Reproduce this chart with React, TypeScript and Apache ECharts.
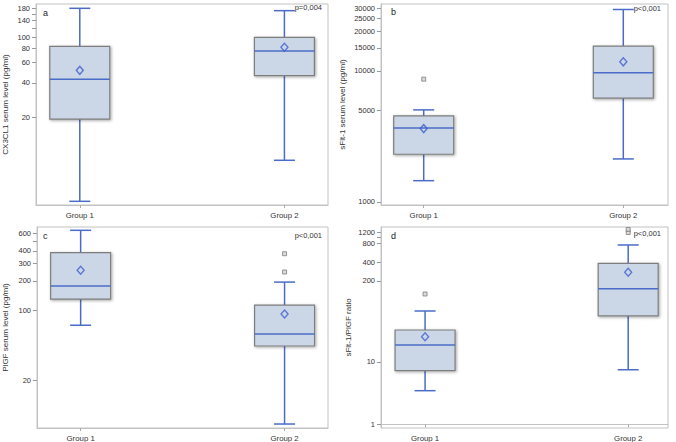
import React, { useEffect, useRef } from "react";
import * as echarts from "echarts";

// ---------- data ----------
const groups = ["Group 1", "Group 2"];

// [min, Q1, median, Q3, max] per group
const cx3cl1Box = [
  [3.65, 19.2, 42.9, 83.5, 180],
  [8.36, 46.2, 76, 100, 171.6],
];
const cx3cl1Mean = [51.4, 81.9];
const cx3cl1Outliers: number[][] = [[], []];
const cx3cl1Ticks = [20, 40, 60, 80, 100, 140, 180];
const cx3cl1MinorTicks = [120, 160];

const sflt1Box = [
  [1454, 2312, 3673, 4532, 5040],
  [2130, 6188, 9660, 15440, 29380],
];
const sflt1Mean = [3627, 11720];
const sflt1Outliers: number[][] = [[8646], []];
const sflt1Ticks = [1000, 5000, 10000, 15000, 20000, 25000, 30000];
const sflt1MinorTicks: number[] = [];

const plgfBox = [
  [71.5, 131, 177, 383, 643],
  [7.27, 44.2, 58.4, 113.6, 194],
];
const plgfMean = [255, 92.8];
const plgfOutliers: number[][] = [[], [374, 245]];
const plgfTicks = [20, 100, 200, 300, 400, 600];
const plgfMinorTicks = [500];

const ratioBox = [
  [3.46, 7.24, 18.7, 32.5, 65.6],
  [7.5, 54.6, 149.6, 382, 751],
];
const ratioMean = [25.4, 274];
const ratioOutliers: number[][] = [[123], [1190, 1330]];
const ratioTicks = [1, 10, 200, 400, 800, 1200];
const ratioMinorTicks = [1000];

const panelLetters = ["a", "b", "c", "d"];
const pValues = ["p=0,004", "p<0,001", "p<0,001", "p<0,001"];
const yTitles = [
  "CX3CL1 serum level (pg/ml)",
  "sFlt-1 serum level (pg/ml)",
  "PlGF serum level (pg/ml)",
  "sFlt-1/PlGF ratio",
];

// ---------- layout ----------
const panels = [
  { box: cx3cl1Box, mean: cx3cl1Mean, out: cx3cl1Outliers, ticks: cx3cl1Ticks, minor: cx3cl1MinorTicks,
    grid: { left: 35, top: 4, width: 293, height: 201 }, yMin: 0.53, yMax: 2.293, xMin: 0.786, xMax: 2.213, nameGap: 27,
    letter: [43, 13], p: [322, 7] },
  { box: sflt1Box, mean: sflt1Mean, out: sflt1Outliers, ticks: sflt1Ticks, minor: sflt1MinorTicks,
    grid: { left: 381, top: 4, width: 287, height: 201 }, yMin: 2.977, yMax: 4.51, xMin: 0.786, xMax: 2.224, nameGap: 35,
    letter: [391, 12], p: [661, 8] },
  { box: plgfBox, mean: plgfMean, out: plgfOutliers, ticks: plgfTicks, minor: plgfMinorTicks,
    grid: { left: 35, top: 227, width: 293, height: 201 }, yMin: 0.8215, yMax: 2.8415, xMin: 0.786, xMax: 2.213, nameGap: 28,
    letter: [43, 236], p: [322, 235] },
  { box: ratioBox, mean: ratioMean, out: ratioOutliers, ticks: ratioTicks, minor: ratioMinorTicks,
    grid: { left: 381, top: 227, width: 287, height: 201 }, yMin: -0.0593, yMax: 3.164, xMin: 0.783, xMax: 2.196, nameGap: 29,
    letter: [391, 236], p: [661, 233] },
];

const FONT = "Liberation Sans, Arial, sans-serif";
const LINE_BLUE = "#4a6cc8";
const BOX_FILL = "#cbd6e7";
const BOX_BORDER = "#7d7d7d";
const FRAME = "#c2c2c2";

export default function App() {
  const ref = useRef<HTMLDivElement>(null);

  useEffect(() => {
    if (!ref.current) return;
    const chart = echarts.init(ref.current, undefined, { renderer: "svg" });

    const grids: any[] = [];
    const xAxes: any[] = [];
    const yAxes: any[] = [];
    const series: any[] = [];
    const graphics: any[] = [];

    panels.forEach((pn, i) => {
      grids.push({ ...pn.grid, show: true, borderColor: FRAME, borderWidth: 1, backgroundColor: "#fff" });
      xAxes.push({
        type: "value",
        gridIndex: i,
        min: pn.xMin,
        max: pn.xMax,
        axisLine: { show: true, lineStyle: { color: FRAME } },
        axisTick: { show: true, length: 3, lineStyle: { color: "#aaa" }, customValues: [1, 2] },
        axisLabel: {
          customValues: [1, 2],
          formatter: (v: number) => groups[Math.round(v) - 1] ?? "",
          fontSize: 7.8,
          color: "#333",
          fontFamily: FONT,
          margin: 6,
        },
        splitLine: { show: false },
      });
      const majors = pn.ticks.map((t) => Math.log10(t));
      const all = majors.concat(pn.minor.map((t) => Math.log10(t)));
      yAxes.push({
        type: "value",
        gridIndex: i,
        min: pn.yMin,
        max: pn.yMax,
        name: yTitles[i],
        nameLocation: "middle",
        nameGap: pn.nameGap,
        nameTextStyle: { fontSize: 8, color: "#333", fontFamily: FONT },
        axisLine: { show: true, lineStyle: { color: FRAME } },
        axisTick: { show: true, length: 4, lineStyle: { color: "#999" }, customValues: all },
        axisLabel: {
          customValues: majors,
          formatter: (v: number) => String(Math.round(Math.pow(10, v))),
          fontSize: 7.5,
          color: "#333",
          fontFamily: FONT,
          margin: 6,
        },
        splitLine: { show: false },
      });

      const boxData = pn.box.map((b, g) => [g + 1, ...b.map((v) => Math.log10(v))]);
      series.push({
        type: "custom",
        xAxisIndex: i,
        yAxisIndex: i,
        data: boxData,
        encode: { x: 0, y: [1, 2, 3, 4, 5] },
        renderItem: (params: any, api: any) => {
          const x = api.value(0);
          const pMin = api.coord([x, api.value(1)]);
          const pQ1 = api.coord([x, api.value(2)]);
          const pMed = api.coord([x, api.value(3)]);
          const pQ3 = api.coord([x, api.value(4)]);
          const pMax = api.coord([x, api.value(5)]);
          const cx = pMin[0];
          const hw = 30;
          const cap = 10.5;
          const ls = { stroke: LINE_BLUE, lineWidth: 1.5 };
          return {
            type: "group",
            children: [
              { type: "line", shape: { x1: cx, y1: pQ3[1], x2: cx, y2: pMax[1] }, style: ls },
              { type: "line", shape: { x1: cx, y1: pQ1[1], x2: cx, y2: pMin[1] }, style: ls },
              { type: "line", shape: { x1: cx - cap, y1: pMax[1], x2: cx + cap, y2: pMax[1] }, style: ls },
              { type: "line", shape: { x1: cx - cap, y1: pMin[1], x2: cx + cap, y2: pMin[1] }, style: ls },
              {
                type: "rect",
                shape: { x: cx - hw, y: pQ3[1], width: hw * 2, height: pQ1[1] - pQ3[1] },
                style: {
                  fill: BOX_FILL,
                  stroke: BOX_BORDER,
                  lineWidth: 1.2,
                  shadowBlur: 3,
                  shadowOffsetX: 1,
                  shadowOffsetY: 1,
                  shadowColor: "rgba(0,0,0,0.35)",
                },
              },
              { type: "line", shape: { x1: cx - hw, y1: pMed[1], x2: cx + hw, y2: pMed[1] }, style: ls },
            ],
          };
        },
        z: 2,
      });

      series.push({
        type: "scatter",
        xAxisIndex: i,
        yAxisIndex: i,
        symbol: "diamond",
        symbolSize: [7, 8],
        data: pn.mean.map((m, g) => [g + 1, Math.log10(m)]),
        itemStyle: { color: "rgba(255,255,255,0)", borderColor: "#3d5fcc", borderWidth: 1.4 },
        z: 5,
      });

      const outData: number[][] = [];
      pn.out.forEach((arr, g) => arr.forEach((v) => outData.push([g + 1, Math.log10(v)])));
      series.push({
        type: "scatter",
        xAxisIndex: i,
        yAxisIndex: i,
        symbol: "rect",
        symbolSize: 4,
        data: outData,
        itemStyle: { color: "#cfcfcf", borderColor: "#808080", borderWidth: 1 },
        z: 5,
      });

      graphics.push({
        type: "text",
        left: pn.letter[0],
        top: pn.letter[1] - 5,
        style: { text: panelLetters[i], fontSize: 9, fill: "#222", fontFamily: FONT },
      });
      graphics.push({
        type: "text",
        x: pn.p[0],
        y: pn.p[1],
        style: {
          text: pValues[i],
          fontSize: 7.5,
          fill: "#333",
          fontFamily: FONT,
          align: "right",
          verticalAlign: "middle",
        },
      });
    });

    chart.setOption({
      animation: false,
      backgroundColor: "#fff",
      grid: grids,
      xAxis: xAxes,
      yAxis: yAxes,
      series,
      graphic: graphics,
    });

    return () => chart.dispose();
  }, []);

  return (
    <div
      ref={ref}
      style={{ position: "fixed", left: 0, top: 0, width: 676, height: 442, background: "#fff" }}
    />
  );
}
